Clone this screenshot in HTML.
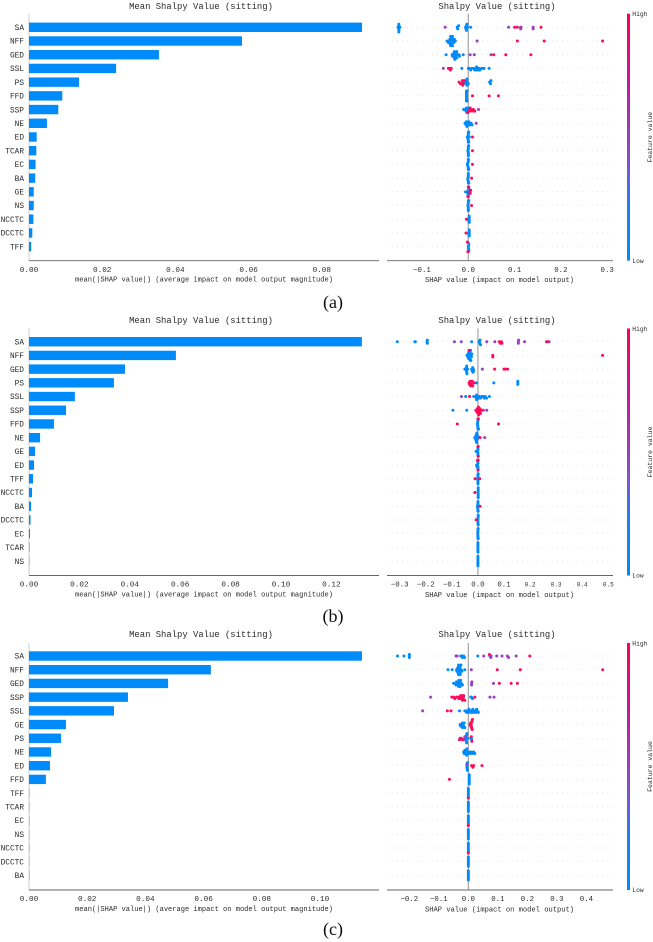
<!DOCTYPE html>
<html lang="en">
<head>
<meta charset="utf-8">
<title>Mean Shapley Value panels</title>
<style>
html,body{margin:0;padding:0;background:#fff;width:653px;height:942px;overflow:hidden}
svg{display:block;filter:blur(.25px)}
text{font-family:"Liberation Mono","DejaVu Sans Mono",monospace;fill:#2b2b2b}
.cap{font-family:"Liberation Serif",serif;font-size:18px;fill:#111}
</style>
</head>
<body>
<svg id="fig" xmlns="http://www.w3.org/2000/svg" width="653" height="942" viewBox="0 0 653 942">
<defs>
<linearGradient id="cbar" x1="0" y1="1" x2="0" y2="0">
<stop offset="0" stop-color="#008bfb"/><stop offset=".22" stop-color="#1f7ff5"/><stop offset=".38" stop-color="#7a55d4"/><stop offset=".52" stop-color="#9c3cc0"/><stop offset=".72" stop-color="#c4189c"/><stop offset="1" stop-color="#ff0051"/>
</linearGradient>
</defs>
<text class="cap" x="333" y="308" text-anchor="middle">(a)</text>
<text class="cap" x="333" y="622" text-anchor="middle">(b)</text>
<text class="cap" x="333" y="935" text-anchor="middle">(c)</text>
</svg>
<script>
const featuresA=["SA","NFF","GED","SSL","PS","FFD","SSP","NE","ED","TCAR","EC","BA","GE","NS","NCCTC","DCCTC","TFF"];
const featuresB=["SA","NFF","GED","PS","SSL","SSP","FFD","NE","GE","ED","TFF","NCCTC","BA","DCCTC","EC","TCAR","NS"];
const featuresC=["SA","NFF","GED","SSP","SSL","GE","PS","NE","ED","FFD","TFF","TCAR","EC","NS","NCCTC","DCCTC","BA"];

const meanA=[.0910,.0582,.0355,.0238,.01366,.0091,.0080,.0049,.0021,.0020,.0018,.0017,.0013,.0013,.0012,.0009,.0006];
const meanB=[.1321,.0583,.0381,.0337,.0182,.0147,.0099,.0044,.0024,.0020,.0016,.0012,.0008,.0006,.0004,.0002,.0001];
const meanC=[.1144,.0625,.0478,.0340,.0292,.0127,.0110,.0076,.0072,.0058,.0001,.0001,.0001,.0001,.0001,.0001,.0001];

const barTicksA=[0,.02,.04,.06,.08];
const barTicksB=[0,.02,.04,.06,.08,.10,.12];
const barTicksC=[0,.02,.04,.06,.08,.10];
const barTickLabelsA=["0.00","0.02","0.04","0.06","0.08"];
const barTickLabelsB=["0.00","0.02","0.04","0.06","0.08","0.10","0.12"];
const barTickLabelsC=["0.00","0.02","0.04","0.06","0.08","0.10"];
const swarmTicksA=[-.1,0,.1,.2,.3];
const swarmTicksB=[-.3,-.2,-.1,0,.1,.2,.3,.4,.5];
const swarmTicksC=[-.2,-.1,0,.1,.2,.3,.4];
const swarmTickLabelsA=["\u22120.1","0.0","0.1","0.2","0.3"];
const swarmTickLabelsB=["\u22120.3","\u22120.2","\u22120.1","0.0","0.1","0.2","0.3","0.4","0.5"];
const swarmTickLabelsC=["\u22120.2","\u22120.1","0.0","0.1","0.2","0.3","0.4"];

const lowA=[
[-.152,-.15,-.15,-.15,-.15,-.15,-.148,-.024,-.023,-.021,-.006,-.005,-.004,-.004,-.003,-.002,.005],
[-.046,-.043,-.041,-.04,-.04,-.039,-.038,-.038,-.038,-.037,-.037,-.036,-.036,-.035,-.034,-.034,-.032,-.031,-.03,-.028],
[-.048,-.035,-.034,-.033,-.032,-.031,-.03,-.03,-.029,-.028,-.027,-.026,-.025,-.025,-.024,-.02,-.019,-.011],
[-.014,0,.002,.005,.008,.011,.014,.016,.018,.018,.02,.022,.024,.025,.03,.034,.045],
[-.012,-.008,-.006,-.005,-.004,-.003,-.003,-.002,0,.046,.048,.049],
[-.004,-.004,-.004,-.004,-.004,-.004,-.004,-.004,-.003,-.003],
[-.01,-.007,-.005,-.004,-.003,-.002,0,.001,.002],
[-.007,-.005,-.004,-.003,-.002,0,.001,.002,.004,.006,.008],
[-.002,-.001,0,0,0,0,0,0,.001,.001,.002],
[-.001,0,0,0,0,0,0,0,.001],
[-.002,-.001,-.001,0,0,0,0,0,0,.001],
[-.001,-.001,0,0,0,0,0,.001],
[-.006,-.002,-.001,0,0,.001],
[-.001,0,0,0,0,0,0,0,.001],
[.001,.001,.002,.002,.002,.002,.002],
[.001,.001,.002,.002,.002,.002,.002],
[0,0,.001,.001,.001,.001]];
const midA=[[-.05,.087,.113,.113,.114,.14,.14],[.019],[.004,.013,.049],[-.054],[],[],[.022],[.017],[],[],[],[],[],[],[],[],[]];
const highA=[[.1,.106,.157],[.106,.164,.29],[.055,.081,.135],[-.043,-.041,-.039,-.037],[-.02,-.017,-.014,-.013,-.012,-.011,-.009],[.009,.045,.065],[-.001,.002,.004,.006,.008,.011,.014],[],[.009],[.009],[.009],[.007],[-.001,0,0,.001,.003,.004,.005],[.007],[-.004],[-.005],[-.002,-.001]];

const lowB=[
[-.309,-.242,-.24,-.195,-.194,-.194,-.024,.005,.007,.008,.01],
[-.042,-.04,-.038,-.037,-.036,-.035,-.034,-.033,-.032,-.032,-.031,-.03,-.03,-.029,-.028,-.027,-.026,-.025,-.024],
[-.05,-.045,-.044,-.044,-.043,-.043,-.042,-.04,-.024,-.022,-.02,-.019,-.018,-.016],
[-.005,.061,.153,.153,.153],
[-.047,-.016,-.008,-.006,-.005,-.005,0,.003,.006,.01,.015,.02,.024,.028,.033,.044],
[-.096,-.043,-.003,0],
[-.002,-.001,-.001,0,0,0,0,0,0,.001,.001,.002,.002,.002],
[-.012,-.01,-.009,-.008,-.007,-.006,-.005,-.004,-.004,-.003,-.002,0],
[-.007,-.002,0,0,0,0,.001],
[-.005,-.004,-.003,0,0,0,0,.001],
[-.001,0,0,0,0,0,0,0,.001],
[0,.001,.001,.001,.001,.001,.001,.001],
[-.002,-.001,0,0,0,0,0,.001],
[0,0,0,0,.001,.001,.001,.001],
[-.001,0,0,0,0,0,0,.001,.001],
[0,0,0,0,0,0,0],
[0,0,0,0,0,0,0]];
const midB=[[-.09,-.064,.034,.065,.155,.155,.156,.179,.273],[],[.017],[],[-.063],[.021,.034],[],[.026],[],[],[],[],[],[],[],[],[]];
const highB=[[.082,.086,.09,.092,.263,.266],[-.034,.057,.057,.478],[.064,.1,.106,.114],[-.034,-.032,-.03,-.028,-.026,-.024,-.022,-.02,-.014],[-.032],[-.008,-.004,-.002,0,.002,.003,.005,.006,.008,.01,.014],[-.079,0,.079],[.008],[0,.001,.001],[-.002,0,.001],[-.011,.007],[-.012],[.008],[-.007],[],[],[]];

const lowC=[
[-.24,-.218,-.2,-.2,-.2,-.026,-.022,-.02,-.016,-.013,.032,.073],
[-.069,-.055,-.04,-.039,-.038,-.037,-.036,-.035,-.034,-.033,-.033,-.032,-.031,-.03,-.03,-.029,-.028,-.027,-.025,-.024,-.022,-.012],
[-.05,-.044,-.042,-.04,-.038,-.036,-.034,-.033,-.032,-.031,-.03,-.029,-.028,-.026,-.024,-.02],
[-.02,-.016,.008,.01,.014],
[-.03,-.012,-.008,-.006,-.004,-.001,.002,.005,.008,.01,.012,.015,.018,.02,.024,.026,.028,.03,.034],
[-.028,-.026,-.024,-.022,-.02,-.02,-.018,-.016,-.014,-.012],
[-.012,-.009,-.008,-.008,-.007,-.006,-.006,-.005,-.003,.008,.01,.011],
[-.016,-.014,-.012,-.011,-.01,-.008,-.006,-.005,-.003,0,.003,.006,.01,.014,.018,.022],
[-.005,-.005,-.004,-.004,-.004,-.004,-.003,-.003],
[.003,.003,.003,.003,.003,.003,.003],
[0,0,0,0,0,0,0],
[0,0,0,0,0,0,0],
[0,0,0,0,0,0,0],
[0,0,0,0,0,0,0],
[0,0,0,0,0,0,0],
[0,0,0,0,0,0,0],
[0,0,0,0,0,0,0]];
const midC=[[-.042,-.038,.052,.076,.077,.096,.114,.132,.136,.162],[.01],[.011,.011,.012,.085],[-.128,.073,.087],[-.155],[],[-.028,-.016,-.012],[],[-.005],[],[],[],[],[],[],[],[]];
const highC=[[.071,.208],[.098,.176,.455],[.105,.145,.166],[-.056,-.05,-.046,-.04,-.036,-.032,-.03,-.028,-.026,-.024,-.022,-.02,-.018,-.016,-.012,.022],[-.071,-.059],[.006,.008,.008,.009,.01,.01,.011,.012,.012,.013,.013,.014],[-.03,-.024,-.02,.01,.012],[],[.011,.015,.018,.046],[-.064],[0],[],[0],[],[0],[],[]];

const svg=document.getElementById('fig');
const NS='http://www.w3.org/2000/svg';
const ROW_STEP=13.71;
function mk(tag,attrs,text){
  const el=document.createElementNS(NS,tag);
  for(const k in attrs)el.setAttribute(k,attrs[k]);
  if(text!==undefined)el.textContent=text;
  svg.appendChild(el);
  return el;
}
function linear(d0,d1,r0,r1){return v=>r0+(v-d0)*(r1-r0)/(d1-d0);}

function drawPanels(p){
  const rowY=i=>p.top+i*ROW_STEP;
  const xBar=linear(0,p.barMax,29,379);
  const xSwarm=linear(p.swarmMin,p.swarmMax,387,613);

  /* left: bar chart */
  let el=mk('text',{x:201,y:p.titleY,'text-anchor':'middle','font-size':8.9,fill:'#222'},'Mean Shalpy Value (sitting)');
  
  
  el=mk('line',{x1:29,x2:29,y1:p.axisY-247,y2:p.axisY,stroke:'#ccc','stroke-width':1});
  
  
  p.features.forEach((f,i)=>{
    const b=mk('rect',{x:xBar(0),y:rowY(i)-4.7,width:Math.max(xBar(p.mean[i])-xBar(0),.3),height:9.4,fill:'#008bfb'});
    
    
    const t=mk('text',{x:24,y:rowY(i)+2.7,'text-anchor':'end','font-size':7.8},f);
    
    
  });
  el=mk('line',{x1:29,x2:379,y1:p.axisY,y2:p.axisY,stroke:'#666','stroke-width':.9});
  
  
  p.barTicks.forEach((v,i)=>{
    const t=mk('text',{x:xBar(v),y:p.axisY+11.2,'text-anchor':'middle','font-size':7.7},p.barTickLabels[i]);
    
    
  });
  el=mk('text',{x:204,y:p.axisY+21,'text-anchor':'middle','font-size':7.06},'mean(|SHAP value|) (average impact on model output magnitude)');
  
  

  /* right: beeswarm */
  el=mk('text',{x:497,y:p.titleY,'text-anchor':'middle','font-size':8.9,fill:'#222'},'Shalpy Value (sitting)');
  
  
  p.features.forEach((f,i)=>{
    const l=mk('line',{x1:387,x2:613,y1:rowY(i),y2:rowY(i),stroke:'#ccc','stroke-width':.5,'stroke-dasharray':'1 4'});
    
    
  });
  el=mk('line',{x1:xSwarm(0),x2:xSwarm(0),y1:p.axisY-247,y2:p.axisY,stroke:'#aaa','stroke-width':1.3});
  
  

  const groups=[[p.low,'#008bfb','low'],[p.mid,'#9a3fc4','mid'],[p.high,'#ff0a5a','high']];
  p.features.forEach((f,i)=>{
    const occupied={};
    groups.forEach(g=>{
      g[0][i].forEach(v=>{
        const x=xSwarm(v);
        const bin=Math.round(x/2);
        const n=occupied[bin]||0;
        occupied[bin]=n+1;
        const off=Math.min(Math.ceil(n/2)*1.55,5)*(n%2?1:-1);
        const d=mk('circle',{cx:x,cy:rowY(i)+off,r:1.5,fill:g[1]});
        
        
      });
    });
  });
  el=mk('line',{x1:387,x2:613,y1:p.axisY,y2:p.axisY,stroke:'#666','stroke-width':.9});
  
  
  p.swarmTicks.forEach((v,i)=>{
    const small=p.id==='b'&&v>=.2;
    const t=mk('text',{x:xSwarm(v),y:p.axisY+11.2,'text-anchor':'middle','font-size':small?6:7.4},p.swarmTickLabels[i]);
    
    
  });
  el=mk('text',{x:499.5,y:p.axisY+21.5,'text-anchor':'middle','font-size':7.1},'SHAP value (impact on model output)');
  
  

  /* colour bar */
  el=mk('rect',{x:627,y:p.axisY-247,width:3,height:247,fill:'url(#cbar)'});
  
  
  el=mk('text',{x:632.3,y:p.axisY-244.5,'font-size':6.3},'High');
  
  
  el=mk('text',{x:632.3,y:p.axisY+2.2,'font-size':6.3},'Low');
  
  
  const cy=p.axisY-123.5;
  el=mk('text',{x:652,y:cy,'text-anchor':'middle','font-size':6.5,transform:'rotate(-90 652 '+cy+')'},'Feature value');
  
  
}

drawPanels({id:'a',top:27.3,axisY:260.7,titleY:9,barMax:.09563,swarmMin:-.1756,swarmMax:.3125,features:featuresA,mean:meanA,barTicks:barTicksA,barTickLabels:barTickLabelsA,swarmTicks:swarmTicksA,swarmTickLabels:swarmTickLabelsA,low:lowA,mid:midA,high:highA});
drawPanels({id:'b',top:341.7,axisY:575.5,titleY:323,barMax:.1389,swarmMin:-.3487,swarmMax:.518,features:featuresB,mean:meanB,barTicks:barTicksB,barTickLabels:barTickLabelsB,swarmTicks:swarmTicksB,swarmTickLabels:swarmTickLabelsB,low:lowB,mid:midB,high:highB});
drawPanels({id:'c',top:656,axisY:890,titleY:637,barMax:.12027,swarmMin:-.2756,swarmMax:.49,features:featuresC,mean:meanC,barTicks:barTicksC,barTickLabels:barTickLabelsC,swarmTicks:swarmTicksC,swarmTickLabels:swarmTickLabelsC,low:lowC,mid:midC,high:highC});
</script>
</body>
</html>
